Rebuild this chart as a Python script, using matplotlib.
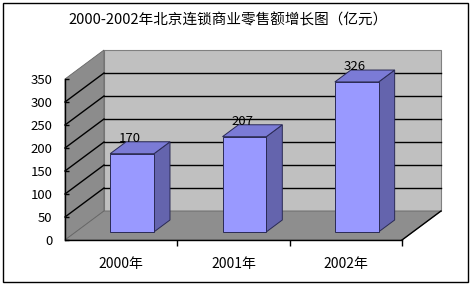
import matplotlib.pyplot as plt
from matplotlib.patches import Polygon, Rectangle

plt.rcParams['font.family'] = ['Noto Sans CJK SC', 'DejaVu Sans']

# data
categories = ['2000年', '2001年', '2002年']
values = [170, 207, 326]
y_ticks = [0, 50, 100, 150, 200, 250, 300, 350]
title = '2000-2002年北京连锁商业零售额增长图（亿元）'

W, H = 471, 285
fig = plt.figure(figsize=(W / 100, H / 100), dpi=100)

# axes rectangle = front plane of the 3D box
ax = fig.add_axes([65 / W, 45 / H, 337 / W, 161 / H])
ax.set_xlim(-0.5, len(categories) - 0.5)
ax.set_ylim(0, 350)
ax.patch.set_alpha(0)

# depth offset of the box (data units)
dx = 39 / 112.33
dy = 29 / (161 / 350)
x0, x1 = -0.5, len(categories) - 0.5
ymax = y_ticks[-1]

def poly(pts, fc, ec='none', lw=0.6, z=1):
    ax.add_patch(Polygon(pts, closed=True, facecolor=fc, edgecolor=ec,
                         linewidth=lw, zorder=z, clip_on=False))

# walls and floor
poly([(x0 + dx, dy), (x1 + dx, dy), (x1 + dx, ymax + dy), (x0 + dx, ymax + dy)],
     '#c0c0c0', '#808080', 0.8, 1)
poly([(x0, 0), (x0 + dx, dy), (x0 + dx, ymax + dy), (x0, ymax)],
     '#8c8c8c', '#666666', 0.6, 1)
poly([(x0, 0), (x1, 0), (x1 + dx, dy), (x0 + dx, dy)],
     '#8e8e8e', '#666666', 0.6, 1)

# gridlines on back wall and side wall
for v in y_ticks[1:-1]:
    ax.plot([x0 + dx, x1 + dx], [v + dy, v + dy], color='black', lw=1.0,
            zorder=2, clip_on=False)
    ax.plot([x0, x0 + dx], [v, v + dy], color='black', lw=1.0,
            zorder=2, clip_on=False)

# right edge of floor
ax.plot([x1, x1 + dx], [0, dy], color='black', lw=1.0, zorder=3, clip_on=False)

# bars
w = 0.39
f0, f1 = 0.28, 0.69
front_c, top_c, side_c, edge_c = '#9999ff', '#7b7bd6', '#6464ad', '#2a2a55'
for i, v in enumerate(values):
    l = i - w / 2
    r = i + w / 2
    a0, b0 = f0 * dx, f0 * dy
    a1, b1 = f1 * dx, f1 * dy
    poly([(r + a0, b0), (r + a1, b1), (r + a1, v + b1), (r + a0, v + b0)],
         side_c, edge_c, 0.7, 4)
    poly([(l + a0, v + b0), (r + a0, v + b0), (r + a1, v + b1), (l + a1, v + b1)],
         top_c, edge_c, 0.7, 4)
    poly([(l + a0, b0), (r + a0, b0), (r + a0, v + b0), (l + a0, v + b0)],
         front_c, edge_c, 0.7, 5)
    ax.text(i + a0 - 0.02, v + b1 + 7, str(v), ha='center', va='center',
            fontsize=9.5, color='black', zorder=6)

# axes styling
for s in ['top', 'right']:
    ax.spines[s].set_visible(False)
ax.spines['left'].set_linewidth(1.0)
ax.spines['bottom'].set_linewidth(1.0)
ax.spines['left'].set_zorder(3)
ax.spines['bottom'].set_zorder(3)
ax.set_yticks(y_ticks)
ax.set_yticklabels([str(t) for t in y_ticks], fontsize=9.5)
ax.tick_params(axis='y', direction='in', length=3, width=1, pad=9)
ax.set_xticks(range(len(categories)))
ax.set_xticklabels(categories, fontsize=10)
ax.tick_params(axis='x', which='major', length=0, pad=12)
ax.set_xticks([0.5, 1.5, 2.5], minor=True)
ax.tick_params(axis='x', which='minor', direction='out', length=4, width=1)

# title
fig.text(228 / W, 1 - 20 / H, title, ha='center', va='center', fontsize=10.5)

# figure border
fig.patches.append(Rectangle((2.5 / W, 3.5 / H), 465 / W, 279 / H,
                             transform=fig.transFigure, fill=False,
                             edgecolor='black', linewidth=1.0))

fig.savefig('out.png', dpi=100)
